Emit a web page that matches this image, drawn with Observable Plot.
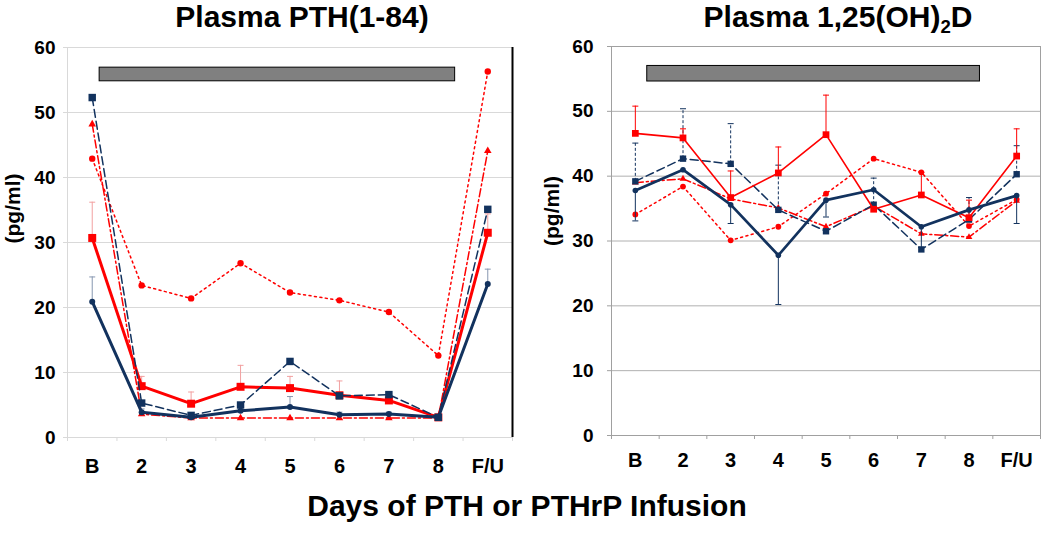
<!DOCTYPE html>
<html><head><meta charset="utf-8">
<script src="https://cdn.jsdelivr.net/npm/d3@7"></script>
<script src="https://cdn.jsdelivr.net/npm/@observablehq/plot@0.6"></script>
<style>
body{margin:0;background:#fff;font-family:"Liberation Sans",Arial,sans-serif;}
#wrap{position:relative;width:1050px;height:533px;overflow:hidden;background:#fff;}
.title{position:absolute;font-weight:bold;font-size:30px;line-height:30px;text-align:center;white-space:nowrap;color:#000;}
.title sub{font-size:0.62em;vertical-align:baseline;position:relative;top:0.3em;}
#wrap svg{position:absolute;top:0;}
</style></head><body>
<div id="wrap">
<div class="title" style="left:102px;width:400px;top:2px">Plasma PTH(1-84)</div>
<div class="title" style="left:638px;width:400px;top:2px">Plasma 1,25(OH)<sub>2</sub>D</div>
<div class="title" style="left:227px;width:600px;top:491px">Days of PTH or PTHrP Infusion</div>
</div>
<script>
// categories
const days = ["B","2","3","4","5","6","7","8","F/U"];
const yTicks = [0,10,20,30,40,50,60];
const yLabel = "(pg/ml)";

// Panel 1: Plasma PTH(1-84)
const pthRedSolid     = [30.7, 7.9, 5.2, 7.8, 7.6, 6.5, 5.7, 3.1, 31.5];
const pthRedSolidErr  = [36.2, 9.4, 7.0, 11.1, 9.4, 8.7, 6.4, null, 34.4];
const pthNavySolid    = [20.9, 3.9, 3.1, 4.1, 4.7, 3.5, 3.6, 3.1, 23.6];
const pthNavySolidErr = [24.7, 4.4, null, 4.6, 6.3, 3.9, 3.9, null, 25.9];
const pthNavyDashed   = [52.3, 5.3, 3.4, 5.0, 11.7, 6.4, 6.6, 3.1, 35.1];
const pthRedDotted    = [42.9, 23.4, 21.4, 26.8, 22.3, 21.1, 19.3, 12.6, 56.3];
const pthRedDashDot   = [48.2, 3.6, 3.0, 3.0, 3.0, 3.0, 3.0, 3.0, 44.1];
const pthBar = {x1: 0.65, x2: 7.84, y1: 54.8, y2: 56.9};

// Panel 2: Plasma 1,25(OH)2D
const vdRedSolid      = [46.6, 45.9, 36.7, 40.5, 46.4, 34.9, 37.1, 33.6, 43.1];
const vdRedSolidErr   = [50.8, 47.3, 40.8, 44.5, 52.5, null, 40.6, 36.3, 47.3];
const vdNavySolid     = [37.8, 41.0, 35.6, 27.8, 36.3, 37.9, 32.2, 34.8, 37.0];
const vdNavySolidErr  = [33.1, null, 32.7, 20.2, 33.7, null, 29.0, null, 32.7];
const vdNavyDashed    = [39.2, 42.7, 41.9, 34.8, 31.5, 35.6, 28.7, 33.3, 40.3];
const vdNavyDashedErr = [45.1, 50.4, 48.1, 41.7, null, 39.7, null, 36.7, 44.7];
const vdRedDotted     = [34.1, 38.4, 30.1, 32.2, 37.3, 42.7, 40.6, 32.3, 36.4];
const vdRedDashDot    = [39.0, 39.6, 36.5, 35.1, 32.2, 35.4, 31.1, 30.6, 36.2];
const vdBar = {x1: 0.75, x2: 7.73, y1: 54.6, y2: 57.0};

const RED = "#ff0000", NAVY = "#12325e";
const capSymbol = {draw(ctx){ ctx.moveTo(-3,0); ctx.lineTo(3,0); }};
const X = d => d.i + 0.5;

function rows(vals, errs){ return vals.map((v,i)=>({i, v, e: errs ? errs[i] : null})); }

function seriesMarks(s){
  const data = rows(s.vals, s.errs);
  const marks = [];
  if (s.errs){
    const ed = data.filter(d=>d.e!=null);
    marks.push(Plot.ruleX(ed, {x: X, y1: "v", y2: "e", stroke: s.errColor, strokeWidth: 1, strokeDasharray: s.errDash || null}));
    marks.push(Plot.dot(ed, {x: X, y: "e", symbol: capSymbol, r: 3, stroke: s.errColor, fill: "none", strokeWidth: 1}));
  }
  marks.push(Plot.line(data, {x: X, y: "v", stroke: s.color, strokeWidth: s.width, strokeDasharray: s.dash || null}));
  marks.push(Plot.dot(data, {x: X, y: "v", symbol: s.symbol, r: s.r, fill: s.color, stroke: "none"}));
  return marks;
}

function panel(o){
  return Plot.plot({
    width: o.width, height: 480,
    marginLeft: o.ml, marginRight: o.mr, marginTop: o.mt, marginBottom: o.mb,
    style: {fontFamily: '"Liberation Sans", Arial, sans-serif', background: "transparent", overflow: "visible"},
    x: {domain: [0, 9]},
    y: {domain: [0, 60]},
    marks: [
      Plot.gridY(yTicks.filter(t=>t>0), {stroke: o.grid, strokeOpacity: 1}),
      ...(o.frame ? [Plot.frame({stroke: o.frameColor})] : [Plot.ruleX([0], {stroke: o.grid}), Plot.ruleY([0], {stroke: o.grid}), Plot.ruleX([9], {stroke: "#000", strokeWidth: 2})]),
      Plot.axisY({ticks: yTicks, tickSize: 4, tickPadding: o.ytp, stroke: o.axisColor, fill: "#000", fontSize: 19, fontWeight: "bold", label: null}),
      Plot.axisX({ticks: d3.range(0, 10), tickSize: 4, tickFormat: () => "", stroke: o.axisColor, label: null}),
      Plot.axisX({ticks: days.map((d,i)=>i+0.5), tickSize: 0, tickPadding: o.xtp, tickFormat: d => days[Math.round(d-0.5)], fill: "#000", fontSize: 20, fontWeight: "bold", label: null}),
      Plot.text([yLabel], {frameAnchor: "left", rotate: -90, dx: o.ldx, dy: o.ldy, fontSize: 21, fontWeight: "bold", fill: "#000"}),
      Plot.rect([o.bar], {x1: "x1", x2: "x2", y1: "y1", y2: "y2", fill: "#808080", stroke: "#000", strokeWidth: 1}),
      ...o.series.flatMap(seriesMarks)
    ]
  });
}

const wrap = document.getElementById("wrap");

const left = panel({
  width: 520, ml: 67, mr: 8, mt: 47, mb: 43, ytp: 8, xtp: 21, ldx: -54, ldy: 1,
  grid: "#d9d9d9", axisColor: "#d9d9d9", frame: false, bar: pthBar,
  series: [
    {vals: pthRedDotted, color: RED, width: 1.5, dash: "2,3.5", symbol: "circle", r: 3.2},
    {vals: pthRedDashDot, color: RED, width: 1.5, dash: "8,3,2,3", symbol: "triangle", r: 2.8},
    {vals: pthRedSolid, errs: pthRedSolidErr, errColor: "#f2a0a0", color: RED, width: 3, symbol: "square", r: 4.5},
    {vals: pthNavySolid, errs: pthNavySolidErr, errColor: "#8797b0", color: NAVY, width: 3, symbol: "circle", r: 3},
    {vals: pthNavyDashed, color: NAVY, width: 1.5, dash: "8,4", symbol: "square", r: 4.2}
  ]
});
left.style.left = "0px";
wrap.appendChild(left);

const right = panel({
  width: 530, ml: 91, mr: 10, mt: 46, mb: 45, ytp: 14, xtp: 17, ldx: -59, ldy: 5,
  grid: "#b0b0b0", axisColor: "#a0a0a0", frame: true, frameColor: "#a0a0a0", bar: vdBar,
  series: [
    {vals: vdRedDotted, color: RED, width: 1.5, dash: "2,3.5", symbol: "circle", r: 2.9},
    {vals: vdRedDashDot, color: RED, width: 1.5, dash: "8,3,2,3", symbol: "triangle", r: 2.5},
    {vals: vdNavyDashed, errs: vdNavyDashedErr, errColor: NAVY, errDash: "3,2", color: NAVY, width: 1.5, dash: "8,4", symbol: "square", r: 3.6},
    {vals: vdRedSolid, errs: vdRedSolidErr, errColor: RED, color: RED, width: 1.6, symbol: "square", r: 3.8},
    {vals: vdNavySolid, errs: vdNavySolidErr, errColor: NAVY, color: NAVY, width: 2.7, symbol: "circle", r: 2.8}
  ]
});
right.style.left = "520px";
wrap.appendChild(right);
</script>
</body></html>
